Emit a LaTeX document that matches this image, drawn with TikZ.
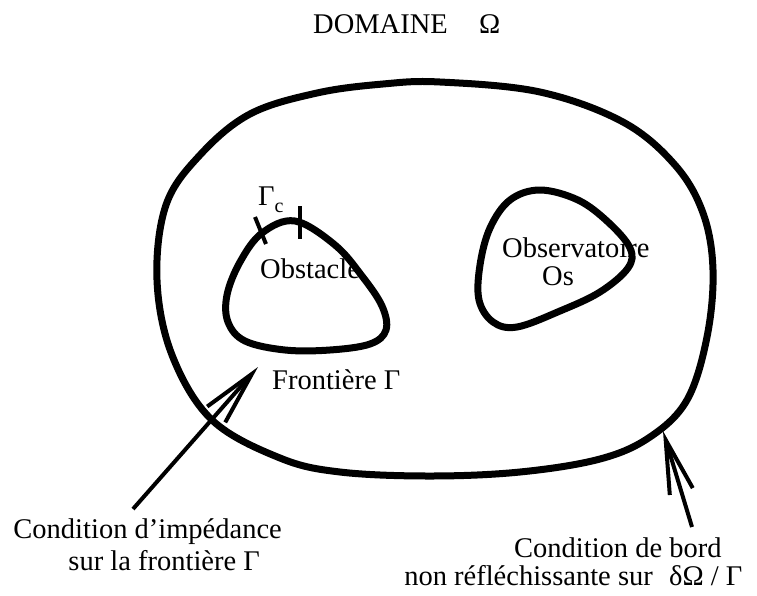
\documentclass[tikz,border=0pt]{standalone}
\usepackage{fontspec}
\setmainfont{Liberation Serif}
\usetikzlibrary{arrows.meta}
\tikzset{
  txt/.style={font=\fontsize{28.5}{34}\selectfont, inner sep=0pt, anchor=base west},
  txte/.style={txt, anchor=base east},
  curve/.style={line width=7pt, line join=round},
  pointer/.style={line width=4pt, -{Straight Barb[length=54pt,width=24pt,line width=4pt]}},
  tick/.style={line width=4pt}
}
\begin{document}
\begin{tikzpicture}[x=1pt,y=-1pt]
\useasboundingbox (0,0) rectangle (757,595);
% texts
\node[txt] (title) at (313,33) {DOMAINE};
\node[txt] (omega) at (479,33) {Ω};
\node[txt] (gc) at (258,205) {Γ\raisebox{-7pt}{\fontsize{20}{20}\selectfont c}};
\node[txt] (obst) at (260,278) {Obstacle};
\node[txt] (obs1) at (502,257) {Observatoire};
\node[txt] (obs2) at (542,285) {Os};
\node[txt] (front) at (272,389) {Frontière Γ};
\node[txte] (ci1) at (282,538) {Condition d’impédance};
\node[txte] (ci2) at (260,570) {sur la frontière Γ};
\node[txt] (cb1) at (514,557) {Condition de bord};
\node[txte] (cb2) at (653,585) {non réfléchissante sur};
\node[txt] (cb3) at (669,585) {δΩ / Γ};
% outer boundary
\draw[curve] plot[smooth cycle, tension=0.6] coordinates {
  (440,82) (540,92) (623,122) (675,165) (703,213) (713,270) (707,337)
  (687,400) (650,437) (600,459) (520,472) (430,476) (340,472) (280,458)
  (212,420) (172,355) (157,280) (166,205) (200,155) (250,114) (317,93) (383,84)};
% obstacle
\draw[curve] plot[smooth cycle, tension=0.6] coordinates {
  (295,221) (335,245) (362,276) (382,306) (386,330) (370,344) (330,350)
  (285,350) (245,341) (228,322) (227,295) (240,262) (262,233)};
% observatory
\draw[curve] plot[smooth cycle, tension=0.6] coordinates {
  (540,190) (578,200) (608,222) (630,248) (628,268) (600,292) (560,311)
  (517,327) (493,322) (479,300) (480,265) (490,228) (510,200)};
% ticks for Gamma_c
\coordinate (t1a) at (255,217); \coordinate (t1b) at (266,244);
\coordinate (t2a) at (300,206); \coordinate (t2b) at (300,239);
\draw[tick] (t1a) -- (t1b);
\draw[tick] (t2a) -- (t2b);
% arrows
\coordinate (a1s) at (133,509); \coordinate (a1e) at (258,367);
\coordinate (a2s) at (692,527); \coordinate (a2e) at (663,431);
\draw[pointer] (a1s) -- (a1e);
\draw[pointer] (a2s) -- (a2e);
\end{tikzpicture}
\end{document}
